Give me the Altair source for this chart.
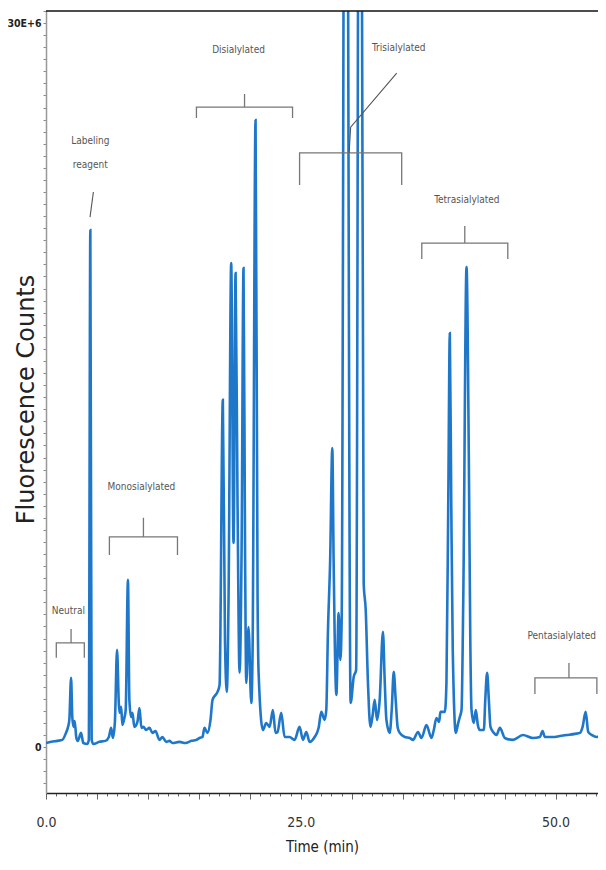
import altair as alt
import pandas as pd

# ---- chromatogram trace (time in min, fluorescence counts in units of 1E6) ----
time_min = [0.00, 0.52, 1.11, 1.60, 1.96, 2.14, 2.29, 2.46, 2.58, 2.70, 2.81, 2.98, 3.12, 3.44, 3.66,
            4.06, 4.20, 4.35, 4.48, 4.65, 5.24, 5.83, 6.17, 6.39, 6.56, 6.76, 6.97, 7.15, 7.23, 7.37,
            7.50, 7.69, 7.82, 8.04, 8.18, 8.35, 8.48, 8.67, 8.97, 9.17, 9.36, 9.56, 9.82, 10.15, 10.44,
            10.74, 11.13, 11.42, 11.79, 12.11, 12.41, 13.09, 13.68, 14.27, 14.76, 15.06, 15.35, 15.55,
            15.84, 16.14, 16.34, 16.63, 16.83, 17.03, 17.35, 17.56, 17.74, 17.91, 18.17, 18.40, 18.60,
            18.79, 18.99, 19.19, 19.38, 19.53, 19.65, 19.87, 20.14, 20.27, 20.56, 20.76, 20.86, 21.28,
            21.61, 21.94, 22.26, 22.52, 22.72, 23.08, 23.41, 23.90, 24.39, 24.88, 25.21, 25.54, 25.86,
            26.36, 26.75, 27.01, 27.34, 27.50, 27.66, 27.88, 28.09, 28.22, 28.32, 28.49, 28.71, 28.88,
            29.01, 29.40, 29.89, 30.19, 30.43, 30.80, 31.17, 31.37, 31.59, 31.83, 32.05, 32.25, 32.48,
            32.74, 33.06, 33.23, 33.40, 33.72, 33.92, 34.12, 34.31, 34.51, 34.71, 35.20, 35.69, 36.01,
            36.50, 36.84, 37.33, 37.82, 38.05, 38.31, 38.57, 38.70, 39.13, 39.29, 39.47, 39.62, 39.76,
            39.91, 40.21, 40.40, 40.60, 40.77, 40.94, 41.26, 41.48, 41.63, 41.75, 41.97, 42.17, 42.37,
            42.56, 42.96, 43.10, 43.28, 43.45, 43.61, 43.94, 44.20, 44.53, 45.02, 45.81, 46.79, 47.77,
            48.46, 48.72, 48.95, 49.73, 50.42, 51.08, 51.90, 52.39, 52.65, 52.95, 53.20, 53.57, 54.03,
            54.52, 54.94, 55.50]
counts_e6 = [0.17, 0.22, 0.26, 0.30, 0.59, 0.80, 1.13, 2.87, 1.25, 0.84, 1.08, 0.38, 0.26, 0.59, 0.17,
             0.13, 0.30, 21.42, 0.30, 0.13, 0.22, 0.26, 0.42, 0.80, 0.38, 1.05, 4.03, 1.75, 1.42, 1.67,
             0.92, 1.21, 1.54, 6.93, 1.96, 1.25, 1.42, 0.84, 1.05, 1.62, 0.80, 0.84, 0.71, 0.80, 0.59,
             0.67, 0.30, 0.42, 0.22, 0.26, 0.17, 0.22, 0.17, 0.26, 0.30, 0.38, 0.42, 0.80,
             0.59, 1.13, 1.96, 2.16, 2.29, 2.58, 14.39, 4.44, 2.29, 6.10, 20.06, 8.46, 19.64,
             10.24, 3.08, 8.17, 19.85, 8.17, 2.66, 4.98, 1.83, 4.03, 25.98, 6.10, 3.08, 0.71,
             1.00, 0.84, 1.54, 0.59, 0.63, 1.42, 0.42, 0.42, 0.30, 0.84, 0.30, 0.63, 0.22,
             0.42, 0.80, 1.46, 1.13, 1.54, 4.73, 7.75, 12.39, 7.75, 4.73, 2.16, 5.56, 3.61,
             5.27, 60.0, 1.83, 2.91, 3.20, 60.0, 6.80, 5.68, 2.66, 0.84, 1.33, 1.96, 1.13,
             1.96, 4.78, 2.78, 1.13, 0.59, 1.54, 3.12, 1.96, 0.80, 0.59, 0.42, 0.38, 0.30,
             0.63, 0.38, 0.92, 0.38, 0.71, 1.21, 1.05, 1.46, 1.46, 2.66, 10.24, 17.16, 10.24,
             4.03, 0.59, 0.92, 1.25, 1.54, 6.10, 19.89, 12.31, 4.44, 1.54, 1.00, 1.54, 0.92,
             0.71, 0.71, 1.96, 3.08, 1.96, 0.84, 0.59, 0.50, 0.80, 0.38, 0.30, 0.50, 0.38,
             0.42, 0.67, 0.42, 0.42, 0.46, 0.50, 0.55, 0.59, 0.84, 1.46, 0.63, 0.50, 0.42,
             0.50, 0.38, 0.40]

# ---- group brackets (time in min, counts in 1E6) ----
bracket_names = ["Neutral", "Monosialylated", "Disialylated", "Trisialylated", "Tetrasialylated", "Pentasialylated"]
bracket_left = [1.01, 6.22, 14.76, 24.88, 36.87, 47.97]
bracket_right = [3.76, 12.90, 24.19, 34.90, 45.31, 54.05]
bracket_mid = [2.46, 9.56, 19.48, 29.74, 41.09, 51.31]
bracket_top = [4.32, 8.71, 26.52, 24.62, 20.88, 2.87]
bracket_end = [3.70, 7.96, 26.07, 23.29, 20.22, 2.20]
bracket_stem = [4.90, 9.50, 27.06, 24.62, 21.59, 3.49]

# ---- leader lines ----
leader_ids = ["reagent", "reagent", "tri", "tri", "tri"]
leader_t = [4.65, 4.32, 29.74, 29.89, 34.41]
leader_v = [23.00, 21.96, 24.62, 25.69, 27.93]

# ---- annotation texts ----
label_text = ["Neutral", "Labeling", "reagent", "Monosialylated", "Disialylated", "Trisialylated",
              "Tetrasialylated", "Pentasialylated"]
label_t = [2.19, 4.35, 4.35, 9.36, 18.89, 34.61, 41.29, 50.60]
label_v = [5.64, 25.11, 24.12, 10.78, 28.88, 28.97, 22.67, 4.61]

trace = pd.DataFrame({"t": time_min, "v": counts_e6})

rows = []
for i, name in enumerate(bracket_names):
    pts = [(bracket_left[i], bracket_end[i]), (bracket_left[i], bracket_top[i]),
           (bracket_mid[i], bracket_top[i]), (bracket_mid[i], bracket_stem[i]),
           (bracket_mid[i], bracket_top[i]), (bracket_right[i], bracket_top[i]),
           (bracket_right[i], bracket_end[i])]
    for k, (t, v) in enumerate(pts):
        rows.append({"id": name, "seq": k, "t": t, "v": v})
brackets = pd.DataFrame(rows)

leaders = pd.DataFrame({"id": leader_ids, "seq": list(range(len(leader_ids))), "t": leader_t, "v": leader_v})
labels = pd.DataFrame({"text": label_text, "t": label_t, "v": label_v})

NARROW = "DejaVu Sans Condensed, Liberation Sans, sans-serif"

x_scale = alt.Scale(domain=[0, 54.16], nice=False, zero=False)
y_scale = alt.Scale(domain=[-1.9, 30.5], nice=False, zero=False)

x_axis = alt.Axis(
    values=list(range(0, 55)),
    labelExpr="datum.value % 25 === 0 ? format(datum.value, '.1f') : ''",
    tickSize={"condition": {"test": "datum.value % 5 === 0", "value": 6}, "value": 3},
    tickColor="#666", domainColor="#222", domainWidth=1.5,
    labelFont=NARROW, labelFontSize=14, labelColor="#333", labelPadding=16,
    labelFlush=False, labelOverlap=False, grid=False,
    titleFont=NARROW, titleFontSize=15, titleFontWeight="normal", titleColor="#222",
    titleY=53, titleBaseline="middle",
)
y_axis = alt.Axis(
    values=[i * 0.5 for i in range(-3, 62)],
    labelExpr="datum.value === 0 ? '0' : (datum.value === 30 ? '30E+6' : '')",
    tickSize=3, tickColor="#888", domainColor="#999", domainWidth=1.5,
    labelFont=NARROW, labelFontSize=10.5, labelColor="#222", labelFontWeight="bold", labelPadding=2,
    labelOverlap=False, grid=False,
    titleFont="DejaVu Sans", titleFontSize=24, titleFontWeight="normal", titleColor="#222",
    titleAngle=270, titleX=-20, titleY=388, titleAlign="center", titleBaseline="middle",
)

x_enc = alt.X("t:Q", scale=x_scale, axis=x_axis, title="Time (min)")
y_enc = alt.Y("v:Q", scale=y_scale, axis=y_axis, title="Fluorescence Counts")

line = alt.Chart(trace).mark_line(color="#1f77c9", strokeWidth=2.6, clip=True,
                                   interpolate="monotone").encode(
    x=x_enc, y=y_enc,
)

bracket_layer = alt.Chart(brackets).mark_line(color="#777", strokeWidth=1.3, clip=True).encode(
    x=x_enc, y=y_enc, detail="id:N", order="seq:Q",
)

leader_layer = alt.Chart(leaders).mark_line(color="#555", strokeWidth=1.1).encode(
    x=x_enc, y=y_enc, detail="id:N", order="seq:Q",
)

text_layer = alt.Chart(labels).mark_text(font=NARROW, fontSize=10, color="#555", baseline="middle", align="center").encode(
    x=x_enc, y=y_enc, text="text:N",
)

top_border = alt.Chart(pd.DataFrame({"a": [0]})).mark_rule(color="#111", strokeWidth=1.5).encode(
    x=alt.value(0), x2=alt.value(552), y=alt.value(0)
)

chart = alt.layer(line, bracket_layer, leader_layer, text_layer, top_border).properties(
    width=552, height=782,
    padding={"left": 38, "top": 3, "right": 0, "bottom": 64},
    autosize=alt.AutoSizeParams(type="none"),
    background="white",
).configure_view(strokeWidth=0)

chart.save("out.html", embed_options={"renderer": "svg", "actions": False})
